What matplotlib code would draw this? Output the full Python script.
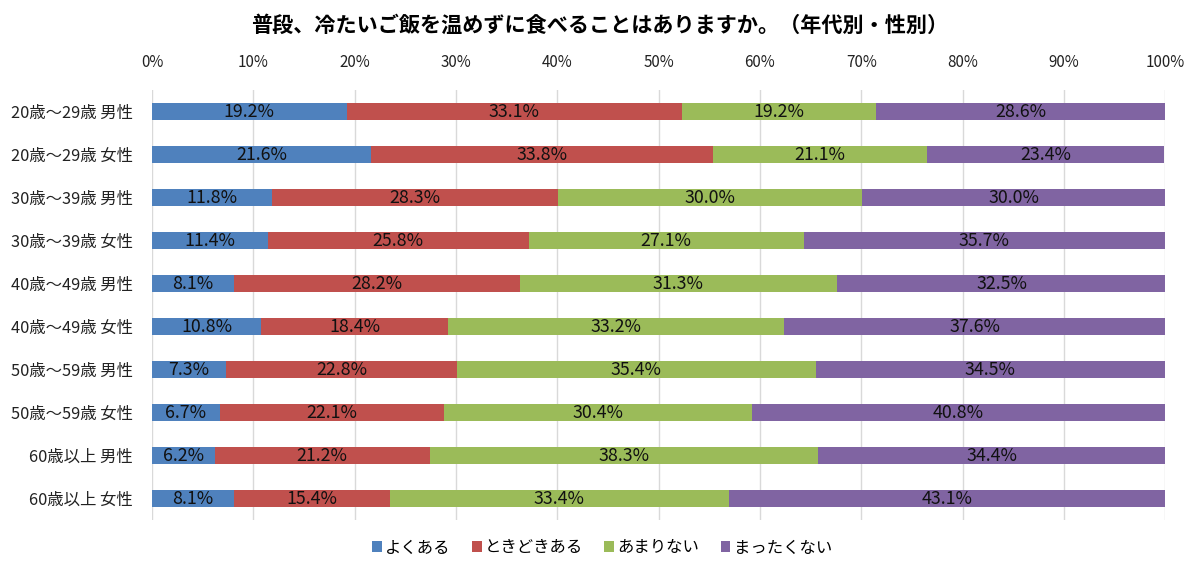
import numpy as np
import matplotlib.pyplot as plt

plt.rcParams['font.family'] = ['Noto Sans CJK JP', 'DejaVu Sans']

# データ
categories = ['20歳～29歳 男性', '20歳～29歳 女性', '30歳～39歳 男性', '30歳～39歳 女性',
              '40歳～49歳 男性', '40歳～49歳 女性', '50歳～59歳 男性', '50歳～59歳 女性',
              '60歳以上 男性', '60歳以上 女性']
series_names = ['よくある', 'ときどきある', 'あまりない', 'まったくない']
yoku = [19.2, 21.6, 11.8, 11.4, 8.1, 10.8, 7.3, 6.7, 6.2, 8.1]
tokidoki = [33.1, 33.8, 28.3, 25.8, 28.2, 18.4, 22.8, 22.1, 21.2, 15.4]
amari = [19.2, 21.1, 30.0, 27.1, 31.3, 33.2, 35.4, 30.4, 38.3, 33.4]
mattaku = [28.6, 23.4, 30.0, 35.7, 32.5, 37.6, 34.5, 40.8, 34.4, 43.1]
colors = ['#4F81BD', '#C0504D', '#9BBB59', '#8064A2']

fig = plt.figure(figsize=(12, 5.7), dpi=100)
ax = fig.add_axes([0.1267, 0.0877, 0.8443, 0.7543])

y = np.arange(len(categories))
left = np.zeros(len(categories))
for name, vals, c in zip(series_names, [yoku, tokidoki, amari, mattaku], colors):
    vals = np.array(vals)
    ax.barh(y, vals, left=left, height=0.4, color=c, label=name, zorder=3)
    for yi, l, v in zip(y, left, vals):
        ax.text(l + v / 2, yi, f'{v:.1f}%', ha='center', va='center',
                fontsize=12.8, color='#111111', zorder=4)
    left = left + vals

ax.set_xlim(0, 100)
ax.set_ylim(9.5, -0.5)
ax.set_xticks(np.arange(0, 101, 10))
ax.set_xticklabels([f'{t}%' for t in range(0, 101, 10)])
ax.xaxis.tick_top()
ax.tick_params(axis='x', length=0, labelsize=10.9, pad=14, colors='#222222')
ax.set_yticks(y)
ax.set_yticklabels(categories)
ax.tick_params(axis='y', length=0, labelsize=11.8, pad=14, colors='#222222')
ax.grid(axis='x', color='#D9D9D9', linewidth=1, zorder=0)
for s in ax.spines.values():
    s.set_visible(False)

fig.text(0.5, 0.955, '普段、冷たいご飯を温めずに食べることはありますか。（年代別・性別）',
         ha='center', va='center', fontsize=15.2, fontweight='bold')

ax.legend(loc='center', bbox_to_anchor=(0.444, -0.065), ncol=4, frameon=False,
          fontsize=11.8, handlelength=0.6, handleheight=0.6, handletextpad=0.2,
          columnspacing=1.3)

fig.savefig('out.png', dpi=100)
